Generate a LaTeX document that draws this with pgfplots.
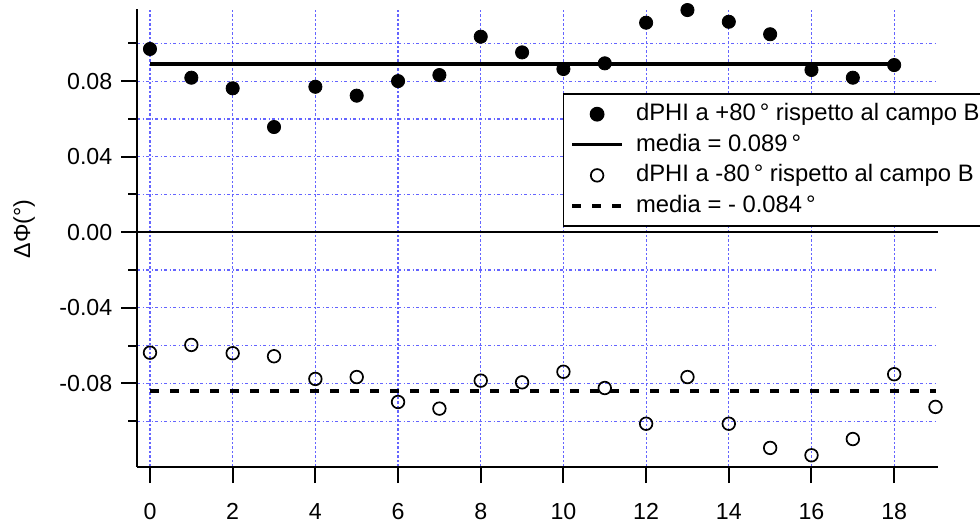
\documentclass[border=0pt]{standalone}
\usepackage{pgfplots}
\pgfplotsset{compat=1.18}
\usepackage{fontspec}
\setmainfont{Liberation Sans}
\definecolor{gridblue}{RGB}{100,100,255}
\pgfplotsset{
  markleg/.style={legend image code/.code={\draw[##1] plot coordinates {(12.5bp,0bp)}; \path[draw=none,fill=none] (0bp,0bp) -- (32bp,0bp);}},
  lineleg/.style={legend image code/.code={\draw[##1] (0bp,0bp) -- (25bp,0bp); \path[draw=none,fill=none] (0bp,0bp) -- (32bp,0bp);}},
}
\begin{document}
\begin{tikzpicture}
\begin{axis}[
  scale only axis,
  width=400.35bp, height=228.85bp,
  xmin=-0.307, xmax=19.06,
  ymin=-0.1242, ymax=0.118,
  font=\fontsize{11.6bp}{13.9bp}\selectfont,
  axis x line*=bottom, axis y line*=left,
  axis line style={line width=0.85bp, black},
  tick align=outside,
  major tick length=8bp, minor tick length=4.5bp,
  every tick/.style={black, line width=1bp},
  xtick={0,2,...,18},
  /pgf/number format/assume math mode=true,
  ytick={-0.08,-0.04,0,0.04,0.08},
  yticklabels={-0.08,-0.04,0.00,0.04,0.08},
  minor ytick={-0.1,-0.06,-0.02,0.02,0.06,0.1},
  xmajorgrids, ymajorgrids, yminorgrids,
  major grid style={gridblue, line width=0.6bp, dash pattern=on 1.5bp off 1.2bp on 0.6bp off 1.2bp},
  minor grid style={gridblue, line width=0.6bp, dash pattern=on 1.5bp off 1.2bp on 0.6bp off 1.2bp},
  xticklabel style={yshift=-6.5bp},
  yticklabel style={xshift=-1bp},
  ylabel={ΔΦ(°)},
  ylabel style={font=\fontsize{11.6bp}{13.9bp}\selectfont},
  every axis y label/.style={at={(axis description cs:-0.1415,0.52)}, rotate=90, anchor=center},
  legend cell align=left,
  legend style={at={(axis description cs:0.5313,0.8165)}, anchor=north west,
    draw=black, line width=0.8bp, fill=white, inner xsep=3.5bp, inner ysep=4.3bp,
    row sep=3.8bp, column sep=0bp,
    nodes={inner sep=0pt, text height=9bp, text depth=2.5bp},
    font=\fontsize{11.9bp}{14bp}\selectfont},
  clip=false,
]
% zero line
\addplot[black, line width=0.8bp, forget plot] coordinates {(-0.307,0) (19.06,0)};

\addplot[only marks, mark=*, mark size=3.3bp, black, markleg]
 coordinates {
 (0,0.0970) (1,0.0818) (2,0.0762) (3,0.0557) (4,0.0770) (5,0.0723)
 (6,0.0800) (7,0.0832) (8,0.1035) (9,0.0952) (10,0.0864) (11,0.0894)
 (12,0.1109) (13,0.1176) (14,0.1114) (15,0.1048) (16,0.0859) (17,0.0818)
 (18,0.0885)};
\addlegendentry{dPHI a +80\,° rispetto al campo B}

\addplot[black, line width=1.6bp, lineleg]
 coordinates {(0,0.089) (18,0.089)};
\addlegendentry{media = 0.089\,°}

\addplot[only marks, mark=o, mark size=3.15bp, black, mark options={line width=0.85bp}, markleg]
 coordinates {
 (0,-0.0637) (1,-0.0596) (2,-0.0640) (3,-0.0656) (4,-0.0776) (5,-0.0766)
 (6,-0.0898) (7,-0.0933) (8,-0.0785) (9,-0.0794) (10,-0.0738) (11,-0.0824)
 (12,-0.1013) (13,-0.0766) (14,-0.1013) (15,-0.1141) (16,-0.1180) (17,-0.1094)
 (18,-0.0751) (19,-0.0924)};
\addlegendentry{dPHI a -80\,° rispetto al campo B}

\addplot[black, line width=1.6bp, dash pattern=on 4.5bp off 5.5bp, lineleg]
 coordinates {(0,-0.084) (19,-0.084)};
\addlegendentry{media = - 0.084\,°}

\coordinate (sw) at (rel axis cs:0,0);
\coordinate (ne) at (rel axis cs:1,1);
\end{axis}
\pgfresetboundingbox
\path ([shift={(-68.65bp,-29bp)}]sw) rectangle ([shift={(21bp,4.65bp)}]ne);
\end{tikzpicture}
\end{document}
